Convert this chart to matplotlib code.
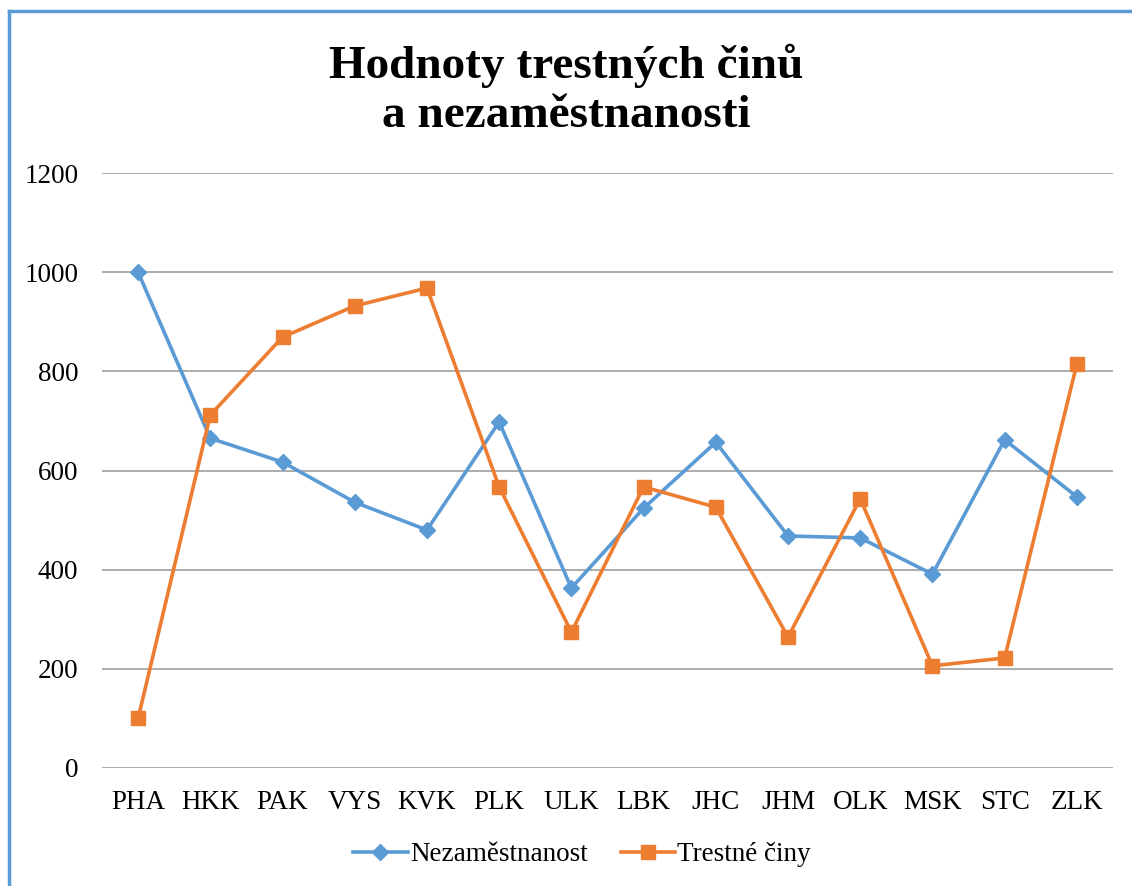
import matplotlib.pyplot as plt
from matplotlib.lines import Line2D

regions = ["PHA", "HKK", "PAK", "VYS", "KVK", "PLK", "ULK",
           "LBK", "JHC", "JHM", "OLK", "MSK", "STC", "ZLK"]
nezamestnanost = [1000, 665, 617, 536, 480, 698, 363,
                  524, 657, 468, 464, 391, 662, 547]
trestne_ciny = [100, 712, 869, 932, 968, 567, 274,
                567, 526, 264, 543, 206, 222, 815]
y_ticks = [0, 200, 400, 600, 800, 1000, 1200]

blue = "#5B9BD5"
orange = "#ED7D31"

plt.rcParams['font.family'] = ['Liberation Serif', 'DejaVu Serif']

fig = plt.figure(figsize=(11.32, 8.86), dpi=100)
ax = fig.add_axes([0.0901, 0.1332, 0.8931, 0.6715])

x = list(range(len(regions)))
ax.plot(x, nezamestnanost, color=blue, lw=2.6, marker="D", ms=8.5,
        label="Nezaměstnanost", zorder=3)
ax.plot(x, trestne_ciny, color=orange, lw=2.6, marker="s", ms=10,
        label="Trestné činy", zorder=3)

ax.set_xlim(-0.5, len(regions) - 0.5)
ax.set_ylim(0, 1200)
ax.set_yticks(y_ticks)
ax.set_xticks(x)
ax.set_xticklabels(regions)
ax.grid(axis="y", color="#A6A6A6", lw=1.3)
ax.set_axisbelow(True)
for s in ax.spines.values():
    s.set_visible(False)
ax.tick_params(axis="both", length=0, labelsize=19.5)
ax.tick_params(axis="y", pad=17)
ax.tick_params(axis="x", pad=16)

fig.text(0.5, 0.898, "Hodnoty trestných činů\na nezaměstnanosti",
         ha="center", va="center", fontsize=34, fontweight="bold",
         linespacing=1.22)

ax.legend(loc="center", bbox_to_anchor=(0.475, -0.146), ncol=2,
          frameon=False, fontsize=19.5, handlelength=2.0, columnspacing=1.2,
          handletextpad=0.1)

# blue frame edges (left and top)
fig.add_artist(Line2D([0.0080, 0.0080], [0, 0.9875], color=blue, lw=2.5,
                      transform=fig.transFigure))
fig.add_artist(Line2D([0.0080, 1], [0.9875, 0.9875], color=blue, lw=2.5,
                      transform=fig.transFigure))

fig.savefig("out.png", dpi=100)
